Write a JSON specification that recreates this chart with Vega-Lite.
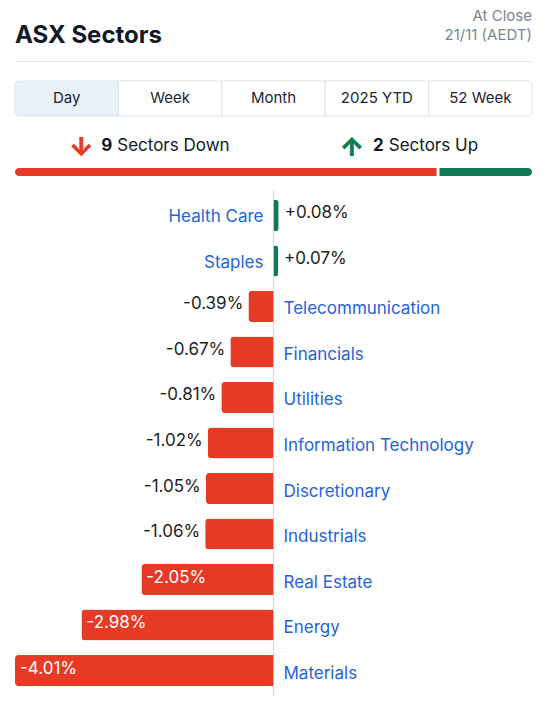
{
  "$schema": "https://vega.github.io/schema/vega-lite/v6.json",
  "background": "white",
  "padding": {"top": 0, "left": 14, "right": 14, "bottom": 0},
  "spacing": 0,
  "config": {
    "view": {"stroke": null},
    "font": "Inter",
    "text": {"font": "Inter"}
  },
  "vconcat": [
    {
      "width": 517,
      "height": 61,
      "data": {"values": [{"title": "ASX Sectors", "status": "At Close", "asof": "21/11 (AEDT)"}]},
      "layer": [
        {
          "mark": {"type": "text", "align": "left", "baseline": "alphabetic", "fontSize": 24, "fontWeight": 700, "color": "#111827"},
          "encoding": {
            "x": {"datum": 0, "type": "quantitative", "scale": {"domain": [0, 1], "nice": false},
                  "axis": {"domainColor": "#e3e7ed", "labels": false, "ticks": false, "grid": false, "title": null}},
            "y": {"datum": 43, "type": "quantitative", "scale": {"domain": [0, 61], "range": [0, 61], "nice": false}, "axis": null},
            "text": {"field": "title"}
          }
        },
        {
          "mark": {"type": "text", "align": "right", "baseline": "alphabetic", "fontSize": 15, "color": "#7b8594"},
          "encoding": {
            "x": {"datum": 1, "type": "quantitative"},
            "y": {"datum": 21, "type": "quantitative"},
            "text": {"field": "status"}
          }
        },
        {
          "mark": {"type": "text", "align": "right", "baseline": "alphabetic", "fontSize": 15, "color": "#7b8594"},
          "encoding": {
            "x": {"datum": 1, "type": "quantitative"},
            "y": {"datum": 40, "type": "quantitative"},
            "text": {"field": "asof"}
          }
        }
      ]
    },
    {
      "width": 517,
      "height": 62,
      "data": {"values": [{"tab": "Day"}, {"tab": "Week"}, {"tab": "Month"}, {"tab": "2025 YTD"}, {"tab": "52 Week"}]},
      "encoding": {
        "x": {"field": "tab", "type": "nominal", "sort": null, "scale": {"domain": ["Day", "Week", "Month", "2025 YTD", "52 Week"], "paddingInner": 0, "paddingOuter": 0}, "axis": null}
      },
      "layer": [
        {
          "transform": [{"filter": "datum.tab === 'Day'"}],
          "mark": {"type": "bar", "stroke": "#dce3eb", "strokeWidth": 1, "fill": "#e8f0f8", "cornerRadiusTopLeft": 4, "cornerRadiusBottomLeft": 4},
          "encoding": {
            "y": {"datum": 20, "type": "quantitative", "scale": {"domain": [0, 62], "range": [0, 62], "nice": false}, "axis": null},
            "y2": {"datum": 55}
          }
        },
        {
          "transform": [{"filter": "datum.tab !== 'Day' && datum.tab !== '52 Week'"}],
          "mark": {"type": "bar", "stroke": "#dce3eb", "strokeWidth": 1, "fill": "white"},
          "encoding": {
            "y": {"datum": 20, "type": "quantitative"},
            "y2": {"datum": 55}
          }
        },
        {
          "transform": [{"filter": "datum.tab === '52 Week'"}],
          "mark": {"type": "bar", "stroke": "#dce3eb", "strokeWidth": 1, "fill": "white", "cornerRadiusTopRight": 4, "cornerRadiusBottomRight": 4},
          "encoding": {
            "y": {"datum": 20, "type": "quantitative"},
            "y2": {"datum": 55}
          }
        },
        {
          "mark": {"type": "text", "fontSize": 15, "color": "#1d2433", "baseline": "middle"},
          "encoding": {
            "y": {"datum": 37, "type": "quantitative"},
            "text": {"field": "tab"}
          }
        }
      ]
    },
    {
      "width": 517,
      "height": 66,
      "data": {"values": [{"direction": "Down", "count": 9}, {"direction": "Up", "count": 2}]},
      "layer": [
        {
          "encoding": {
            "x": {"field": "direction", "type": "nominal", "scale": {"domain": ["Down", "Up"], "paddingInner": 0, "paddingOuter": 0}, "axis": null},
            "y": {"datum": 23, "type": "quantitative", "scale": {"domain": [0, 66], "range": [0, 66], "nice": false}, "axis": null}
          },
          "layer": [
            {
              "transform": [{"filter": "datum.direction === 'Down'"}],
              "mark": {"type": "text", "text": "↓", "fontSize": 26, "fontWeight": 900, "color": "#e43a26", "baseline": "middle", "align": "center", "dx": -63, "dy": 2}
            },
            {
              "transform": [{"filter": "datum.direction === 'Down'"}],
              "mark": {"type": "text", "fontSize": 17, "fontWeight": 700, "color": "#111827", "baseline": "middle", "align": "right", "dx": -32},
              "encoding": {"text": {"field": "count"}}
            },
            {
              "transform": [{"filter": "datum.direction === 'Down'"}],
              "mark": {"type": "text", "text": "Sectors Down", "fontSize": 17, "color": "#111827", "baseline": "middle", "align": "left", "dx": -27}
            },
            {
              "transform": [{"filter": "datum.direction === 'Up'"}],
              "mark": {"type": "text", "text": "↑", "fontSize": 26, "fontWeight": 900, "color": "#0d7a55", "baseline": "middle", "align": "center", "dx": -51, "dy": 2}
            },
            {
              "transform": [{"filter": "datum.direction === 'Up'"}],
              "mark": {"type": "text", "fontSize": 17, "fontWeight": 700, "color": "#111827", "baseline": "middle", "align": "right", "dx": -19},
              "encoding": {"text": {"field": "count"}}
            },
            {
              "transform": [{"filter": "datum.direction === 'Up'"}],
              "mark": {"type": "text", "text": "Sectors Up", "fontSize": 17, "color": "#111827", "baseline": "middle", "align": "left", "dx": -14}
            }
          ]
        },
        {
          "transform": [{"stack": "count", "groupby": [], "sort": [{"field": "direction", "order": "ascending"}], "as": ["start", "end"]}],
          "layer": [
            {
              "transform": [{"filter": "datum.direction === 'Down'"}],
              "mark": {"type": "bar", "color": "#e43a26", "cornerRadiusTopLeft": 4, "cornerRadiusBottomLeft": 4},
              "encoding": {
                "x": {"field": "start", "type": "quantitative", "scale": {"domain": [0, 11], "nice": false}, "axis": null},
                "x2": {"field": "end"},
                "y": {"datum": 45, "type": "quantitative"},
                "y2": {"datum": 53}
              }
            },
            {
              "transform": [{"filter": "datum.direction === 'Up'"}],
              "mark": {"type": "bar", "color": "#0d7a55", "cornerRadiusTopRight": 4, "cornerRadiusBottomRight": 4},
              "encoding": {
                "x": {"field": "start", "type": "quantitative"},
                "x2": {"field": "end"},
                "y": {"datum": 45, "type": "quantitative"},
                "y2": {"datum": 53}
              }
            },
            {
              "transform": [{"filter": "datum.direction === 'Up'"}],
              "mark": {"type": "rule", "color": "white", "strokeWidth": 3},
              "encoding": {
                "x": {"field": "start", "type": "quantitative"},
                "y": {"datum": 44, "type": "quantitative"},
                "y2": {"datum": 54}
              }
            }
          ]
        }
      ],
      "resolve": {"scale": {"x": "independent"}}
    },
    {
      "width": 517,
      "height": 506,
      "data": {"values": [
        {"sector": "Health Care", "change": 0.08},
        {"sector": "Staples", "change": 0.07},
        {"sector": "Telecommunication", "change": -0.39},
        {"sector": "Financials", "change": -0.67},
        {"sector": "Utilities", "change": -0.81},
        {"sector": "Information Technology", "change": -1.02},
        {"sector": "Discretionary", "change": -1.05},
        {"sector": "Industrials", "change": -1.06},
        {"sector": "Real Estate", "change": -2.05},
        {"sector": "Energy", "change": -2.98},
        {"sector": "Materials", "change": -4.01}
      ]},
      "transform": [{"calculate": "(datum.change > 0 ? '+' : '-') + format(abs(datum.change), '.2f') + '%'", "as": "label"}],
      "layer": [
        {
          "data": {"values": [{}]},
          "mark": {"type": "rule", "color": "#d4d4d4", "strokeWidth": 1},
          "encoding": {
            "x": {"datum": 0, "type": "quantitative", "scale": {"domain": [-4.01, 4.01], "nice": false}, "axis": null}
          }
        },
        {
          "transform": [{"filter": "datum.change < 0"}],
          "mark": {"type": "bar", "color": "#e43a26", "cornerRadiusTopLeft": 3.5, "cornerRadiusBottomLeft": 3.5},
          "encoding": {
            "y": {"field": "sector", "type": "nominal", "sort": null,
                  "scale": {"domain": ["Health Care", "Staples", "Telecommunication", "Financials", "Utilities", "Information Technology", "Discretionary", "Industrials", "Real Estate", "Energy", "Materials"],
                            "paddingInner": 0.32, "paddingOuter": 0.22}, "axis": null},
            "x": {"field": "change", "type": "quantitative"}
          }
        },
        {
          "transform": [{"filter": "datum.change > 0"}],
          "mark": {"type": "bar", "color": "#0d7a55", "cornerRadiusTopRight": 2.5, "cornerRadiusBottomRight": 2.5},
          "encoding": {
            "y": {"field": "sector", "type": "nominal", "sort": null},
            "x": {"field": "change", "type": "quantitative"}
          }
        },
        {
          "transform": [{"filter": "datum.change < 0"}],
          "mark": {"type": "text", "align": "left", "baseline": "middle", "dx": 10, "dy": 3, "fontSize": 17, "color": "#2563d6"},
          "encoding": {
            "y": {"field": "sector", "type": "nominal", "sort": null},
            "x": {"datum": 0, "type": "quantitative"},
            "text": {"field": "sector"}
          }
        },
        {
          "transform": [{"filter": "datum.change > 0"}],
          "mark": {"type": "text", "align": "right", "baseline": "middle", "dx": -10, "dy": 2, "fontSize": 17, "color": "#2563d6"},
          "encoding": {
            "y": {"field": "sector", "type": "nominal", "sort": null},
            "x": {"datum": 0, "type": "quantitative"},
            "text": {"field": "sector"}
          }
        },
        {
          "transform": [{"filter": "datum.change < 0 && datum.change > -1.5"}],
          "mark": {"type": "text", "align": "right", "baseline": "middle", "dx": -5, "dy": -2, "fontSize": 17, "color": "#1c1e21"},
          "encoding": {
            "y": {"field": "sector", "type": "nominal", "sort": null},
            "x": {"field": "change", "type": "quantitative"},
            "text": {"field": "label"}
          }
        },
        {
          "transform": [{"filter": "datum.change <= -1.5"}],
          "mark": {"type": "text", "align": "left", "baseline": "middle", "dx": 5, "dy": -2, "fontSize": 17, "color": "white"},
          "encoding": {
            "y": {"field": "sector", "type": "nominal", "sort": null},
            "x": {"field": "change", "type": "quantitative"},
            "text": {"field": "label"}
          }
        },
        {
          "transform": [{"filter": "datum.change > 0"}],
          "mark": {"type": "text", "align": "left", "baseline": "middle", "dx": 6, "dy": -2, "fontSize": 17, "color": "#1c1e21"},
          "encoding": {
            "y": {"field": "sector", "type": "nominal", "sort": null},
            "x": {"field": "change", "type": "quantitative"},
            "text": {"field": "label"}
          }
        }
      ]
    }
  ]
}
